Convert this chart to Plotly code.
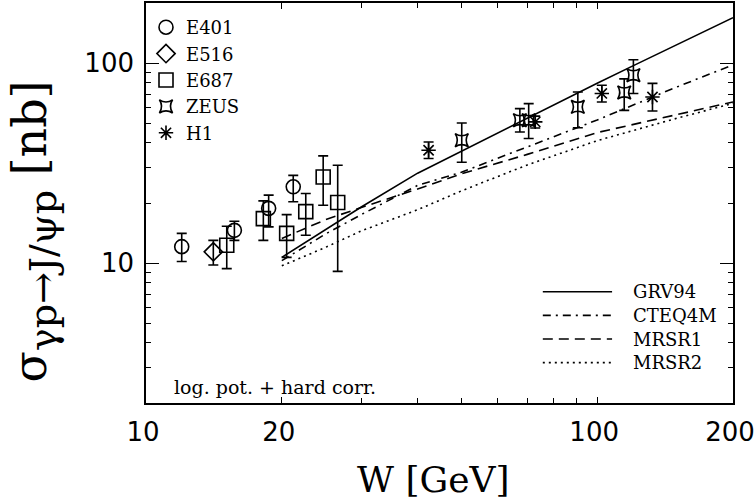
import plotly.graph_objects as go

# experimental points: W [GeV], sigma [nb], upper / lower error
e401_w = [12.0, 15.7, 18.7, 21.2]
e401_s = [12.1, 14.6, 18.8, 24.1]
e401_up = [2.0, 1.6, 3.1, 3.4]
e401_dn = [1.9, 1.6, 3.6, 3.8]

e516_w = [14.1]
e516_s = [11.4]
e516_up = [1.6]
e516_dn = [1.6]

e687_w = [15.1, 18.2, 20.5, 22.6, 24.7, 26.6]
e687_s = [12.3, 16.7, 14.1, 18.1, 27.0, 20.1]
e687_up = [3.0, 3.8, 3.4, 4.2, 7.4, 10.8]
e687_dn = [2.9, 3.7, 3.4, 4.3, 7.5, 11.0]

zeus_w = [50.1, 67.4, 70.5, 90.6, 114.8, 120.3]
zeus_s = [41.2, 51.9, 51.9, 60.5, 71.4, 87.1]
zeus_up = [9.0, 7.4, 10.9, 11.3, 12.1, 16.9]
zeus_dn = [9.2, 6.6, 9.9, 12.9, 13.3, 16.5]

h1_w = [42.3, 72.9, 102.4, 132.6]
h1_s = [36.7, 50.9, 70.6, 67.8]
h1_up = [3.7, 3.5, 7.0, 11.5]
h1_dn = [3.3, 3.5, 6.6, 10.1]

# model curves
grv_w = [20, 25, 30, 40, 50, 60, 70, 80, 100, 120, 150, 200]
grv_s = [10.7, 14.7, 19.1, 28.2, 36.3, 44.8, 53.5, 61.8, 79.4, 97, 124, 169]
cteq_w = [20, 25, 30, 40, 50, 70, 100, 150, 200]
cteq_s = [10.3, 14.0, 17.5, 24.5, 28.5, 38.0, 52.0, 76.0, 98.0]
mrsr1_w = [20, 25, 30, 40, 50, 70, 100, 150, 200]
mrsr1_s = [13.3, 16.5, 19.0, 23.5, 28.0, 35.0, 45.0, 55.5, 64.0]
mrsr2_w = [20, 25, 30, 40, 50, 70, 100, 150, 200]
mrsr2_s = [9.7, 12.0, 14.5, 18.5, 23.0, 31.0, 41.0, 53.0, 63.0]

SERIF = "DejaVu Serif"
SANS = "DejaVu Sans"

fig = go.Figure()

def points(name, w, s, up, dn, symbol, size):
    fig.add_trace(go.Scatter(
        x=w, y=s, mode="markers", name=name,
        marker=dict(symbol=symbol, size=size, color="black",
                    line=dict(color="black", width=1.6)),
        error_y=dict(type="data", symmetric=False, array=up, arrayminus=dn,
                     color="black", thickness=1.6, width=5),
    ))

points("E401", e401_w, e401_s, e401_up, e401_dn, "circle-open", 14)
points("E516", e516_w, e516_s, e516_up, e516_dn, "diamond-open", 14)
points("E687", e687_w, e687_s, e687_up, e687_dn, "square-open", 14)
points("ZEUS", zeus_w, zeus_s, zeus_up, zeus_dn, "star-square-open", 12)
points("H1", h1_w, h1_s, h1_up, h1_dn, "asterisk-open", 12)

curves = [
    ("GRV94", grv_w, grv_s, "solid"),
    ("CTEQ4M", cteq_w, cteq_s, "8px,5px,2px,5px"),
    ("MRSR1", mrsr1_w, mrsr1_s, "10px,6px"),
    ("MRSR2", mrsr2_w, mrsr2_s, "2px,4px"),
]
for name, w, s, dash in curves:
    fig.add_trace(go.Scatter(x=w, y=s, mode="lines", name=name, showlegend=False,
                             line=dict(color="black", width=1.6, dash=dash)))

# line legend, bottom right
for i, (name, w, s, dash) in enumerate(curves):
    yy = 0.278 - i * 0.059
    fig.add_shape(type="line", xref="paper", yref="paper", x0=0.676, x1=0.794,
                  y0=yy, y1=yy, line=dict(color="black", width=1.6, dash=dash))
    fig.add_annotation(xref="paper", yref="paper", x=0.826, y=yy, text=name,
                       showarrow=False, xanchor="left", yanchor="middle",
                       font=dict(family=SERIF, size=18, color="black"))

fig.add_annotation(xref="paper", yref="paper", x=0.044, y=0.04,
                   text="log. pot. + hard corr.", showarrow=False,
                   xanchor="left", yanchor="middle",
                   font=dict(family=SERIF, size=19, color="black"))

fig.add_annotation(xref="paper", yref="paper", x=0.49, y=-0.19,
                   text="W [GeV]", showarrow=False, xanchor="center", yanchor="middle",
                   font=dict(family=SERIF, size=36, color="black"))
fig.add_annotation(xref="paper", yref="paper", x=-0.19, y=0.43,
                   text="σ<sub><span style='font-size:38px'>γp→J/ψp</span></sub> [nb]",
                   showarrow=False, textangle=-90,
                   xanchor="center", yanchor="middle",
                   font=dict(family=SERIF, size=46, color="black"))

axis_common = dict(
    type="log", showgrid=False, zeroline=False, showline=True, linecolor="black",
    linewidth=1.6, mirror="allticks", ticks="inside", tickcolor="black",
    tickwidth=1.2, tickfont=dict(family=SANS, size=26, color="black"),
    ticklabeloverflow="allow", ticklabelstandoff=5, automargin=False,
    minor=dict(dtick="D1", ticks="inside", ticklen=5, tickcolor="black",
               tickwidth=1.2, showgrid=False),
)

fig.update_xaxes(range=[1, 2.30104], tickvals=[10, 20, 100, 200],
                 ticktext=["10", "20", "100", "200"], ticklen=6,
                 ticklabelshift=-3, **axis_common)
fig.update_yaxes(range=[0.30103, 2.30103], tickvals=[10, 100],
                 ticktext=["10", "100"], ticklen=13, **axis_common)

fig.update_layout(
    width=756, height=499,
    margin=dict(l=146, r=23, t=3, b=96),
    paper_bgcolor="white", plot_bgcolor="white",
    showlegend=True,
    legend=dict(x=0.0, y=0.985, xanchor="left", yanchor="top",
                bgcolor="rgba(0,0,0,0)", font=dict(family=SERIF, size=18, color="black"),
                itemwidth=30, tracegroupgap=0),
)

fig.write_html("out.html", config={"displayModeBar": False},
               post_script="document.body.style.margin='0';")
